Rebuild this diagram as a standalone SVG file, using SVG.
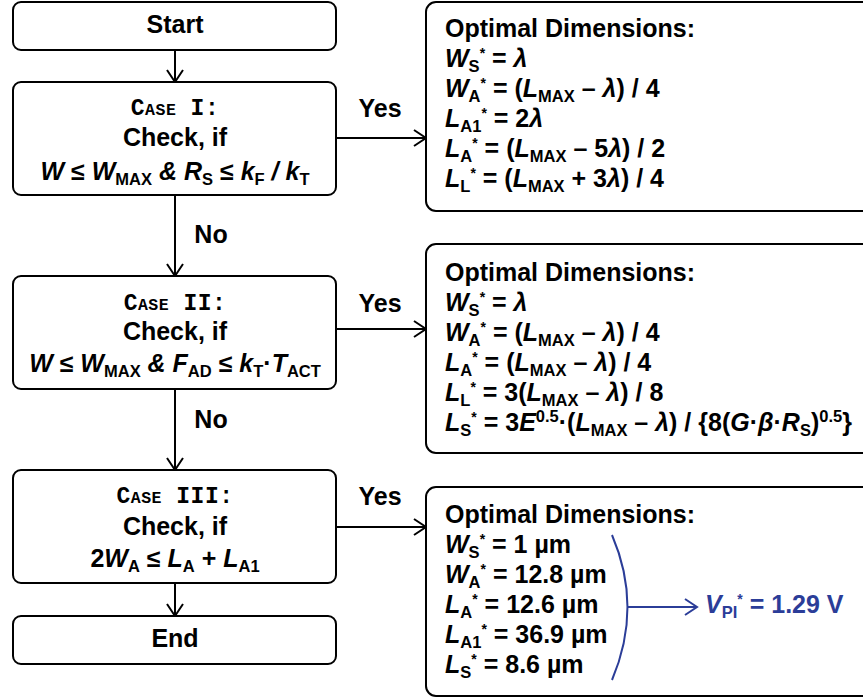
<svg xmlns="http://www.w3.org/2000/svg" width="863" height="698" viewBox="0 0 863 698">
<style>
.box{fill:#fff;stroke:#000;stroke-width:2}
.t{font-family:"Liberation Sans",Arial,sans-serif;font-weight:bold;font-size:25px;fill:#000}
.c{text-anchor:middle}
.i{font-style:italic}
.sb{font-size:16.5px;font-style:normal}
.st{font-size:14px;font-style:normal}
.case{font-family:"Liberation Mono","Courier New",monospace;font-size:23px;letter-spacing:0.5px;font-weight:bold;fill:#000;text-anchor:middle}
.sc{font-size:16.5px}
.ln{fill:none;stroke:#000;stroke-width:2}
.bl{fill:none;stroke:#2b3d98;stroke-width:2}
.blue{fill:#2b3d98}
</style>
<defs>
<marker id="ah" markerUnits="userSpaceOnUse" markerWidth="16" markerHeight="20" refX="13" refY="9" orient="auto">
<path d="M1,1 L13,9 L1,17" fill="none" stroke="#000" stroke-width="2"/>
</marker>
<marker id="ahb" markerUnits="userSpaceOnUse" markerWidth="16" markerHeight="20" refX="13" refY="9" orient="auto">
<path d="M1,1 L13,9 L1,17" fill="none" stroke="#2b3d98" stroke-width="2"/>
</marker>
</defs>
<rect width="863" height="698" fill="#fff"/>

<g id="connectors">
<line class="ln" x1="175" y1="50" x2="175" y2="82" marker-end="url(#ah)"/>
<line class="ln" x1="175" y1="195" x2="175" y2="276" marker-end="url(#ah)"/>
<line class="ln" x1="175" y1="389" x2="175" y2="470" marker-end="url(#ah)"/>
<line class="ln" x1="175" y1="583" x2="175" y2="616" marker-end="url(#ah)"/>
<line class="ln" x1="337" y1="138" x2="426" y2="138" marker-end="url(#ah)"/>
<line class="ln" x1="337" y1="329" x2="426" y2="329" marker-end="url(#ah)"/>
<line class="ln" x1="337" y1="527" x2="426" y2="527" marker-end="url(#ah)"/>
<text class="t c" x="380" y="117">Yes</text>
<text class="t c" x="380" y="312">Yes</text>
<text class="t c" x="380" y="505">Yes</text>
<text class="t c" x="211" y="243">No</text>
<text class="t c" x="211" y="428">No</text>
</g>

<g id="start">
<rect class="box" x="13" y="2" width="323" height="48" rx="8"/>
<text class="t c" x="175" y="33">Start</text>
</g>

<g id="case1">
<rect class="box" x="13" y="82" width="323" height="113" rx="8"/>
<text class="case" x="175" y="115">C<tspan class="sc">ASE</tspan> I:</text>
<text class="t c" x="175" y="146">Check, if</text>
<text class="t c" x="175" y="180"><tspan class="i">W</tspan> ≤ <tspan class="i">W</tspan><tspan class="sb" dy="5">MAX</tspan><tspan class="i" dy="-5"> &amp; R</tspan><tspan class="sb" dy="5">S</tspan><tspan dy="-5"> ≤ </tspan><tspan class="i">k</tspan><tspan class="sb" dy="5">F</tspan><tspan class="i" dy="-5"> / k</tspan><tspan class="sb" dy="5">T</tspan></text>
</g>

<g id="case2">
<rect class="box" x="13" y="276" width="323" height="113" rx="8"/>
<text class="case" x="175" y="310">C<tspan class="sc">ASE</tspan> II:</text>
<text class="t c" x="175" y="340">Check, if</text>
<text class="t c" x="175" y="372"><tspan class="i">W</tspan> ≤ <tspan class="i">W</tspan><tspan class="sb" dy="5">MAX</tspan><tspan class="i" dy="-5"> &amp; F</tspan><tspan class="sb" dy="5">AD</tspan><tspan dy="-5"> ≤ </tspan><tspan class="i">k</tspan><tspan class="sb" dy="5">T</tspan><tspan dy="-5">·</tspan><tspan class="i">T</tspan><tspan class="sb" dy="5">ACT</tspan></text>
</g>

<g id="case3">
<rect class="box" x="13" y="470" width="323" height="113" rx="8"/>
<text class="case" x="175" y="503">C<tspan class="sc">ASE</tspan> III:</text>
<text class="t c" x="175" y="535">Check, if</text>
<text class="t c" x="175" y="567">2<tspan class="i">W</tspan><tspan class="sb" dy="5">A</tspan><tspan dy="-5"> ≤ </tspan><tspan class="i">L</tspan><tspan class="sb" dy="5">A</tspan><tspan dy="-5"> + </tspan><tspan class="i">L</tspan><tspan class="sb" dy="5">A1</tspan></text>
</g>

<g id="end">
<rect class="box" x="13" y="616" width="323" height="48" rx="8"/>
<text class="t c" x="175" y="647">End</text>
</g>

<g id="result1">
<rect class="box" x="426" y="2" width="450" height="209" rx="10"/>
<text class="t" x="445" y="37">Optimal Dimensions:</text>
<text class="t" x="445" y="67"><tspan class="i">W</tspan><tspan class="sb" dy="5">S</tspan><tspan class="st" dy="-14">*</tspan><tspan dy="9"> = </tspan><tspan class="i">λ</tspan></text>
<text class="t" x="445" y="97"><tspan class="i">W</tspan><tspan class="sb" dy="5">A</tspan><tspan class="st" dy="-14">*</tspan><tspan dy="9"> = (</tspan><tspan class="i">L</tspan><tspan class="sb" dy="5">MAX</tspan><tspan dy="-5"> – </tspan><tspan class="i">λ</tspan>) / 4</text>
<text class="t" x="445" y="127"><tspan class="i">L</tspan><tspan class="sb" dy="5">A1</tspan><tspan class="st" dy="-14">*</tspan><tspan dy="9"> = 2</tspan><tspan class="i">λ</tspan></text>
<text class="t" x="445" y="157"><tspan class="i">L</tspan><tspan class="sb" dy="5">A</tspan><tspan class="st" dy="-14">*</tspan><tspan dy="9"> = (</tspan><tspan class="i">L</tspan><tspan class="sb" dy="5">MAX</tspan><tspan dy="-5"> – 5</tspan><tspan class="i">λ</tspan>) / 2</text>
<text class="t" x="445" y="187"><tspan class="i">L</tspan><tspan class="sb" dy="5">L</tspan><tspan class="st" dy="-14">*</tspan><tspan dy="9"> = (</tspan><tspan class="i">L</tspan><tspan class="sb" dy="5">MAX</tspan><tspan dy="-5"> + 3</tspan><tspan class="i">λ</tspan>) / 4</text>
</g>

<g id="result2">
<rect class="box" x="426" y="244" width="450" height="209" rx="10"/>
<text class="t" x="445" y="281">Optimal Dimensions:</text>
<text class="t" x="445" y="311"><tspan class="i">W</tspan><tspan class="sb" dy="5">S</tspan><tspan class="st" dy="-14">*</tspan><tspan dy="9"> = </tspan><tspan class="i">λ</tspan></text>
<text class="t" x="445" y="341"><tspan class="i">W</tspan><tspan class="sb" dy="5">A</tspan><tspan class="st" dy="-14">*</tspan><tspan dy="9"> = (</tspan><tspan class="i">L</tspan><tspan class="sb" dy="5">MAX</tspan><tspan dy="-5"> – </tspan><tspan class="i">λ</tspan>) / 4</text>
<text class="t" x="445" y="371"><tspan class="i">L</tspan><tspan class="sb" dy="5">A</tspan><tspan class="st" dy="-14">*</tspan><tspan dy="9"> = (</tspan><tspan class="i">L</tspan><tspan class="sb" dy="5">MAX</tspan><tspan dy="-5"> – </tspan><tspan class="i">λ</tspan>) / 4</text>
<text class="t" x="445" y="401"><tspan class="i">L</tspan><tspan class="sb" dy="5">L</tspan><tspan class="st" dy="-14">*</tspan><tspan dy="9"> = 3(</tspan><tspan class="i">L</tspan><tspan class="sb" dy="5">MAX</tspan><tspan dy="-5"> – </tspan><tspan class="i">λ</tspan>) / 8</text>
<text class="t" x="445" y="431"><tspan class="i">L</tspan><tspan class="sb" dy="5">S</tspan><tspan class="st" dy="-14">*</tspan><tspan dy="9"> = 3</tspan><tspan class="i">E</tspan><tspan class="sb" dy="-9">0.5</tspan><tspan dy="9">·(</tspan><tspan class="i">L</tspan><tspan class="sb" dy="5">MAX</tspan><tspan dy="-5"> – </tspan><tspan class="i">λ</tspan>) / {8(<tspan class="i">G</tspan>·<tspan class="i">β</tspan>·<tspan class="i">R</tspan><tspan class="sb" dy="5">S</tspan><tspan dy="-5">)</tspan><tspan class="sb" dy="-9">0.5</tspan><tspan dy="9">}</tspan></text>
</g>

<g id="result3">
<rect class="box" x="426" y="487" width="450" height="209" rx="10"/>
<text class="t" x="445" y="523">Optimal Dimensions:</text>
<text class="t" x="445" y="553"><tspan class="i">W</tspan><tspan class="sb" dy="5">S</tspan><tspan class="st" dy="-14">*</tspan><tspan dy="9"> = 1 µm</tspan></text>
<text class="t" x="445" y="583"><tspan class="i">W</tspan><tspan class="sb" dy="5">A</tspan><tspan class="st" dy="-14">*</tspan><tspan dy="9"> = 12.8 µm</tspan></text>
<text class="t" x="445" y="613"><tspan class="i">L</tspan><tspan class="sb" dy="5">A</tspan><tspan class="st" dy="-14">*</tspan><tspan dy="9"> = 12.6 µm</tspan></text>
<text class="t" x="445" y="643"><tspan class="i">L</tspan><tspan class="sb" dy="5">A1</tspan><tspan class="st" dy="-14">*</tspan><tspan dy="9"> = 36.9 µm</tspan></text>
<text class="t" x="445" y="673"><tspan class="i">L</tspan><tspan class="sb" dy="5">S</tspan><tspan class="st" dy="-14">*</tspan><tspan dy="9"> = 8.6 µm</tspan></text>
<path class="bl" d="M612,535 Q643,607 612,680"/>
<line class="bl" x1="628" y1="607" x2="697" y2="607" marker-end="url(#ahb)"/>
<text class="t blue" x="705" y="613"><tspan class="i">V</tspan><tspan class="sb" dy="5">PI</tspan><tspan class="st" dy="-14">*</tspan><tspan dy="9"> = 1.29 V</tspan></text>
</g>
</svg>
